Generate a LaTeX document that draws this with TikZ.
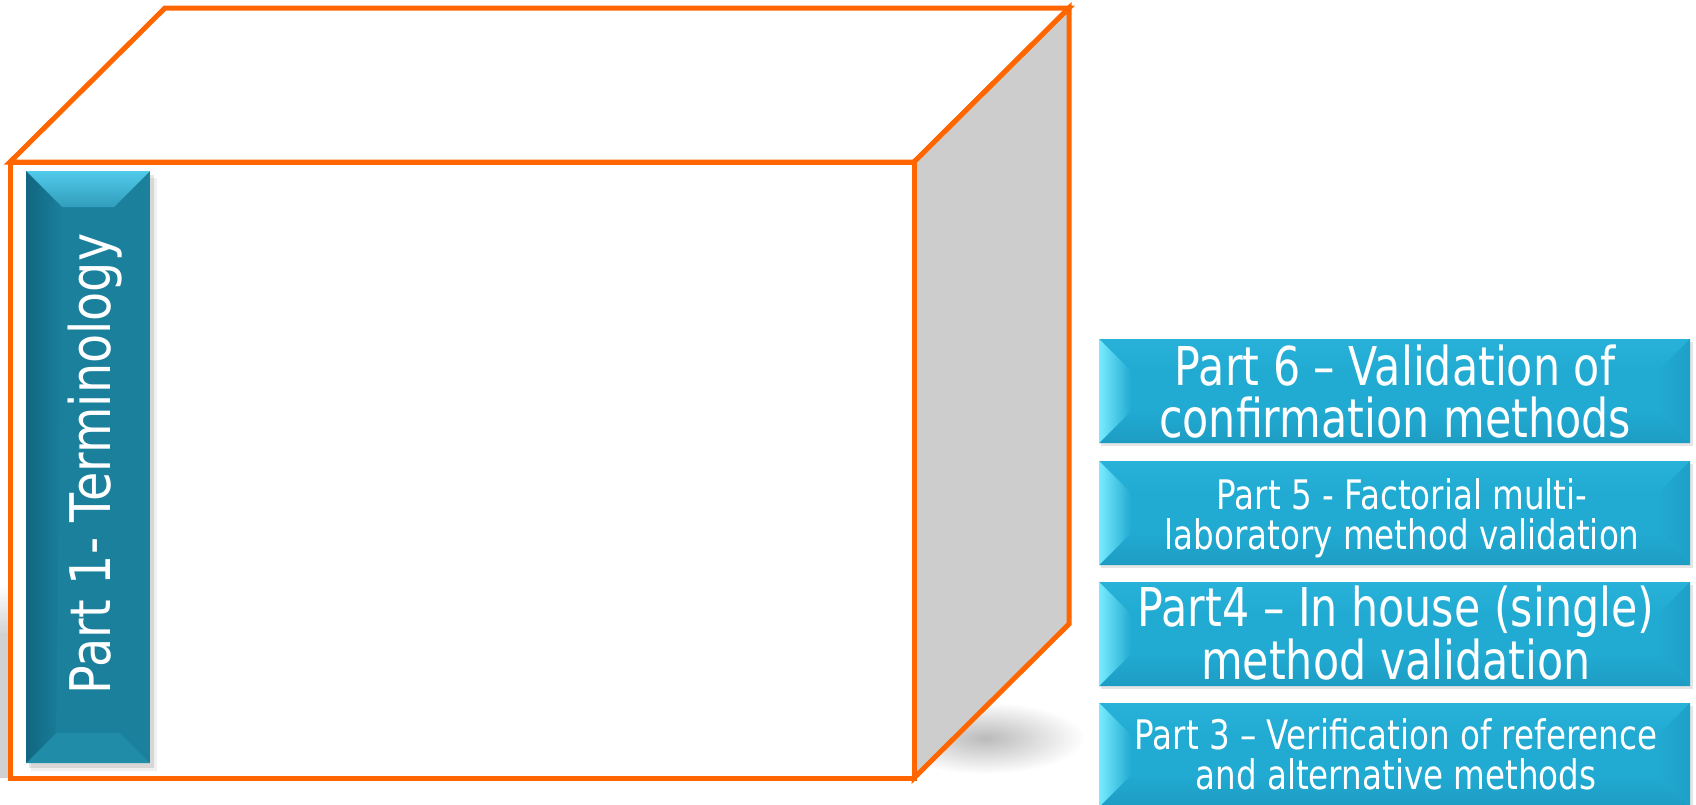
\documentclass[tikz,border=0pt]{standalone}
\usepackage{fontspec}
\newfontfamily\tah[FakeStretch=0.8]{DejaVu Sans}
\newfontfamily\tahw[FakeStretch=0.85]{DejaVu Sans}
\usetikzlibrary{calc}
\definecolor{cubeorange}{RGB}{255,102,0}
\definecolor{sidegray}{RGB}{205,205,205}
\definecolor{barbase}{RGB}{26,128,156}
\definecolor{bartop}{RGB}{82,202,235}
\definecolor{barbottom}{RGB}{32,140,168}
\definecolor{barleft}{RGB}{17,102,128}
\definecolor{boxbase}{RGB}{33,170,210}
\definecolor{boxtop}{RGB}{40,178,218}
\definecolor{boxleft}{RGB}{120,236,255}
\definecolor{boxbottom}{RGB}{29,156,195}
\definecolor{boxright}{RGB}{30,160,200}
\newcommand\boxbevel[2]{%
  \coordinate (#1-nw) at ($(#1.north west)+(#2,#2)$);
  \coordinate (#1-ne) at ($(#1.north east)+(-#2,#2)$);
  \coordinate (#1-se) at ($(#1.south east)+(-#2,-#2)$);
  \coordinate (#1-sw) at ($(#1.south west)+(#2,-#2)$);
  \shade[top color=boxtop, bottom color=boxbase] (#1.north west) -- (#1.north east) -- (#1-ne) -- (#1-nw) -- cycle;
  \shade[top color=boxbase, bottom color=boxbottom] (#1.south west) -- (#1.south east) -- (#1-se) -- (#1-sw) -- cycle;
  \shade[left color=boxbase, right color=boxright] (#1.north east) -- (#1.south east) -- (#1-se) -- (#1-ne) -- cycle;
  \shade[left color=boxleft, right color=boxbase] (#1.north west) -- (#1-nw) -- (#1-sw) -- (#1.south west) -- cycle;
}
\begin{document}
\begin{tikzpicture}[x=1pt,y=-1pt,
  edge/.style={draw=cubeorange,line width=5pt,line join=miter},
  partbox/.style={fill=boxbase,minimum width=591pt,minimum height=104pt,inner sep=0pt,outer sep=0pt},
  partbar/.style={fill=barbase,minimum width=124pt,minimum height=592pt,inner sep=0pt,outer sep=0pt},
  boxshadow/.style={fill=black,opacity=0.10},
  bigtext/.style={text=white,align=center,inner sep=0pt,font=\tah\fontsize{53.5}{51.5}\selectfont},
  smalltext/.style={text=white,align=center,inner sep=0pt,font=\tah\fontsize{40.7}{40}\selectfont},
  bartext/.style={text=white,inner sep=0pt,font=\tahw\fontsize{56}{56}\selectfont}
]
\useasboundingbox (0,0) rectangle (1696,804);
\clip (0,0) rectangle (1696,804);

% cube shadows
\shade[top color=white, bottom color=black!18] (0,585) rectangle (10,635);
\fill[black!18] (0,634) rectangle (10,778);
\shade[inner color=black!27, outer color=white] (985,738) ellipse [x radius=100pt, y radius=36pt];

% cube
\coordinate (F1) at (10,162);
\coordinate (F2) at (914,162);
\coordinate (F3) at (914,778);
\coordinate (F4) at (10,778);
\coordinate (B1) at (165,8);
\coordinate (B2) at (1069,8);
\coordinate (B3) at (1069,624);
\filldraw[edge, fill=white] (F1) -- (B1) -- (B2) -- (F2) -- cycle;
\filldraw[edge, fill=sidegray] (F2) -- (B2) -- (B3) -- (F3) -- cycle;
\filldraw[edge, fill=white] (F1) -- (F2) -- (F3) -- (F4) -- cycle;

% Part 1 bar
\fill[boxshadow] (29,175) rectangle (154,768);
\fill[black,opacity=0.06] (31,178) rectangle (157,771);
\node[partbar] (bar) at (88,467) {};
\coordinate (bar-nw) at ($(bar.north west)+(36,36)$);
\coordinate (bar-ne) at ($(bar.north east)+(-36,36)$);
\coordinate (bar-se) at ($(bar.south east)+(-30,-30)$);
\coordinate (bar-sw) at ($(bar.south west)+(30,-30)$);
\shade[top color=bartop, bottom color=barbase!60!bartop] (bar.north west) -- (bar.north east) -- (bar-ne) -- (bar-nw) -- cycle;
\fill[barbottom] (bar.south west) -- (bar.south east) -- (bar-se) -- (bar-sw) -- cycle;
\shade[left color=barleft, right color=barbase] (bar.north west) -- (bar-nw) -- (bar-sw) -- (bar.south west) -- cycle;
\node[bartext, rotate=90, anchor=base] (p1) at (110,464) {Part 1- Terminology};

% right boxes
\foreach \y in {391, 513, 634, 755}{
  \fill[boxshadow] (1101,\y-49) rectangle (1693,\y+55);
}
\node[partbox] (b6) at (1394.5,391) {};
\node[partbox] (b5) at (1394.5,513) {};
\node[partbox] (b4) at (1394.5,634) {};
\node[partbox] (b3) at (1394.5,755) {};
\boxbevel{b6}{32}
\boxbevel{b5}{32}
\boxbevel{b4}{32}
\boxbevel{b3}{32}

\node[bigtext, anchor=base] (p6) at (1395,437) {Part 6 – Validation of\\confirmation methods};
\node[smalltext, anchor=base] (p5) at (1402,549) {Part 5 - Factorial multi-\\laboratory method validation};
\node[bigtext, anchor=base] (p4) at (1396,679) {Part4 – In house (single)\\method validation};
\node[smalltext, anchor=base] (p3) at (1396,789.5) {Part 3 – Verification of reference\\and alternative methods};
\end{tikzpicture}
\end{document}
